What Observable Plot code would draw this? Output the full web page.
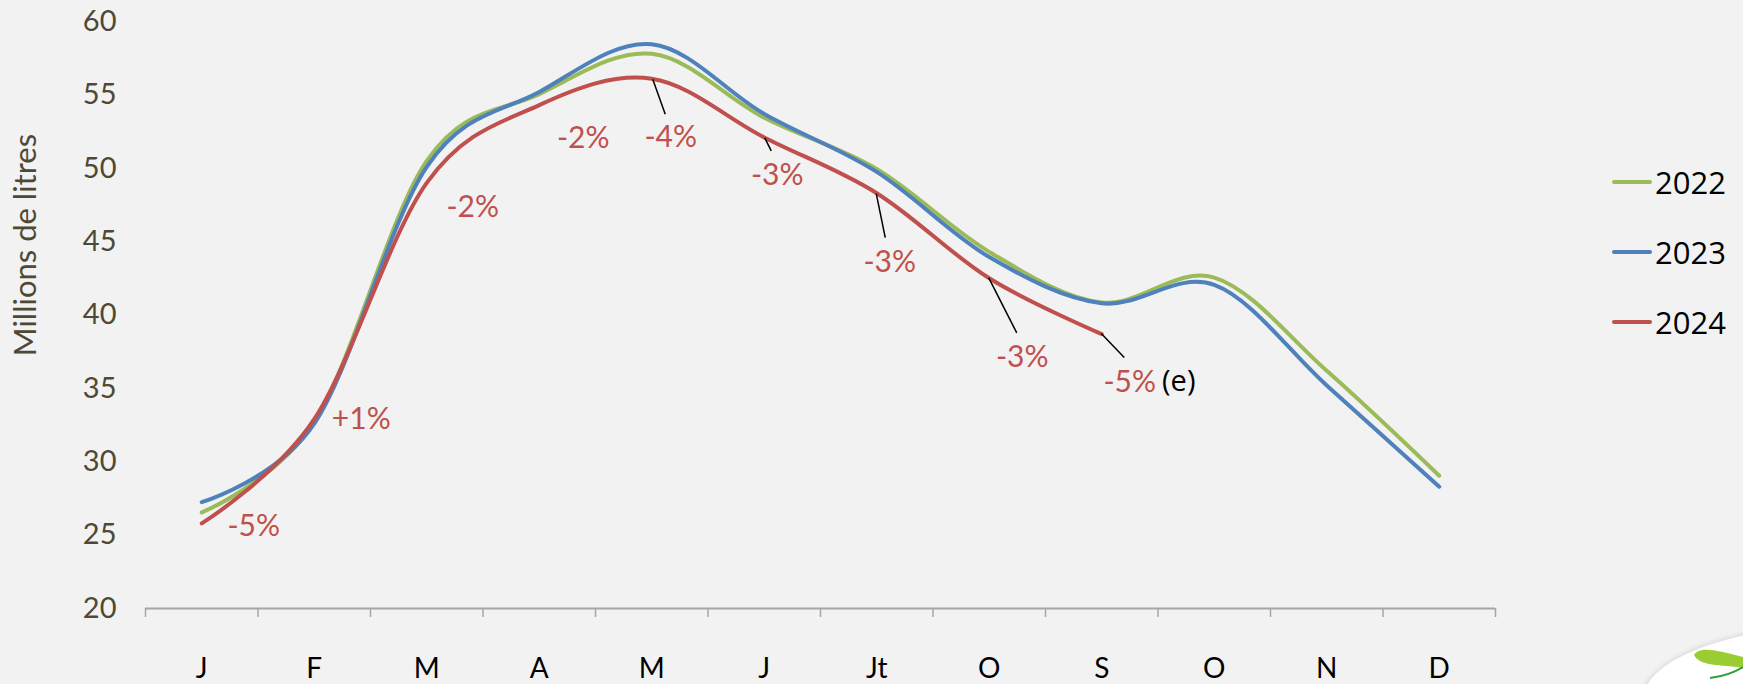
<!DOCTYPE html>
<html>
<head>
<meta charset="utf-8">
<script src="https://cdn.jsdelivr.net/npm/d3@7"></script>
<script src="https://cdn.jsdelivr.net/npm/@observablehq/plot@0.6"></script>
<style>
  html, body { margin: 0; padding: 0; background: #F2F2F2; }
  #wrap { position: relative; width: 1743px; height: 684px; overflow: hidden; background: #F2F2F2; }
  #legend { position: absolute; left: 1612px; top: 0; font-family: "Open Sans", sans-serif; font-size: 31px; color: #000; }
  .lg { position: absolute; left: 0; display: flex; align-items: center; white-space: nowrap; }
  .lg .sw { width: 40px; height: 4px; border-radius: 2px; margin-right: 3px; }
  #logo { position: absolute; left: 0; top: 0; pointer-events: none; }
</style>
</head>
<body>
<div id="wrap"></div>
<script>
// ---- data ----
const months = ["J", "F", "M", "A", "M", "J", "Jt", "O", "S", "O", "N", "D"];
const years = ["2022", "2023", "2024"];
const colors = ["#9BBB59", "#4F81BD", "#C0504D"];
const v2022 = [26.55, 32.7, 50.5, 55.05, 57.8, 53.45, 49.95, 44.3, 40.85, 42.55, 36.2, 29.05];
const v2023 = [27.25, 32.6, 50.1, 55.2, 58.45, 53.7, 49.75, 43.95, 40.8, 42.05, 35.2, 28.3];
const v2024 = [25.8, 32.9, 49.0, 54.3, 56.1, 52.1, 48.3, 42.5, 38.7];
const changes2024 = ["-5%", "+1%", "-2%", "-2%", "-4%", "-3%", "-3%", "-3%", "-5%"];
const yTicks = [20, 25, 30, 35, 40, 45, 50, 55, 60];
const yTitle = "Millions de litres";
const estimateNote = "(e)";

// ---- table built from the arrays ----
const seriesVals = [v2022, v2023, v2024];
const rows = years.flatMap((y, k) => seriesVals[k].map((v, i) => ({year: y, i, value: v})));
const annot = changes2024.map((t, i) => ({i, value: v2024[i], label: t}));

// ---- label layout (pixel offsets from the 2024 point) ----
const labelOff = [[52, 3], [47, 0], [46, 24], [44, 33], [19, 59], [13, 38], [13, 69], [33, 79], [28, 48]];
const leaderOff = [null, null, null, null, [[1.5, 1], [14, 36]], [[1, 1], [7.5, 14]], [[0, 1], [9, 45]], [[0, 0], [28, 55]], [[0, 0], [23, 24]]];

const red = "#C0504D";
const axisGray = "#A6A6A6";
const tickColor = "#4D4935";

const labelMarks = annot.map((a, k) => Plot.text([a], {
  x: "i", y: "value", text: "label",
  dx: labelOff[k][0], dy: labelOff[k][1],
  fill: red, fontSize: 30, fontFamily: "Lato", textAnchor: "middle"
}));

const leaders = (index, scales) => {
  const g = d3.create("svg:g").attr("stroke", "#000").attr("stroke-width", 1.5);
  annot.forEach((a, k) => {
    const off = leaderOff[k];
    if (!off) return;
    const px = scales.x(a.i), py = scales.y(a.value);
    g.append("line")
      .attr("x1", px + off[0][0]).attr("y1", py + off[0][1])
      .attr("x2", px + off[1][0]).attr("y2", py + off[1][1]);
  });
  return g.node();
};

const plot = Plot.plot({
  width: 1743,
  height: 684,
  marginLeft: 145,
  marginRight: 248,
  marginTop: 21,
  marginBottom: 76,
  style: {background: "transparent", fontFamily: "Lato", overflow: "visible"},
  x: {domain: [-0.5, 11.5]},
  y: {domain: [20, 60]},
  color: {domain: years, range: colors},
  marks: [
    Plot.axisY({ticks: yTicks, tickSize: 0, tickPadding: 29, fontSize: 29, color: tickColor, label: null}),
    Plot.text([yTitle], {frameAnchor: "left", textAnchor: "middle", dx: -119, dy: -70, rotate: -90, fontSize: 31, fill: tickColor, fontFamily: "Lato"}),
    Plot.axisX(d3.range(-0.5, 12, 1), {tickSize: 9, tickFormat: () => "", stroke: axisGray, strokeWidth: 1.5, label: null}),
    Plot.axisX(d3.range(12), {tickSize: 0, tickPadding: 50, tickFormat: i => months[i], fontSize: 28, color: "#000", label: null}),
    Plot.ruleY([20], {stroke: axisGray, strokeWidth: 2}),
    Plot.line(rows, {x: "i", y: "value", z: "year", stroke: "year", strokeWidth: 4, curve: "cardinal", strokeLinecap: "round"}),
    leaders,
    ...labelMarks,
    Plot.text([annot[annot.length - 1]], {x: "i", y: "value", text: () => estimateNote, dx: 77, dy: 48, fill: "#000", fontSize: 29, fontFamily: "Open Sans", textAnchor: "middle"})
  ]
});

const wrap = document.getElementById("wrap");
wrap.appendChild(plot);

// legend (right side, inside the picture)
const legend = document.createElement("div");
legend.id = "legend";
const legendTops = [182, 252, 322];
years.forEach((y, k) => {
  const row = document.createElement("div");
  row.className = "lg";
  row.style.top = (legendTops[k] - 22) + "px";
  row.style.height = "44px";
  const sw = document.createElement("div");
  sw.className = "sw";
  sw.style.background = colors[k];
  const t = document.createElement("span");
  t.textContent = y;
  row.appendChild(sw);
  row.appendChild(t);
  legend.appendChild(row);
});
wrap.appendChild(legend);

// logo fragment in the bottom-right corner
const ns = "http://www.w3.org/2000/svg";
const logo = document.createElementNS(ns, "svg");
logo.setAttribute("id", "logo");
logo.setAttribute("width", "1743");
logo.setAttribute("height", "684");
logo.innerHTML = `
  <defs><filter id="sh" x="-20%" y="-20%" width="140%" height="140%"><feGaussianBlur stdDeviation="2"/></filter></defs>
  <ellipse cx="1832" cy="702" rx="192" ry="77" fill="#dcdcdc" filter="url(#sh)"/>
  <ellipse cx="1832" cy="702" rx="190" ry="75" fill="#ffffff"/>
  <path d="M1694 655 C1700 646 1715 650 1743 657 L1743 668 C1720 664 1700 667 1694 655 Z" fill="#9ACD32"/>
  <path d="M1710 678 C1725 676 1735 672 1743 667" stroke="#2E9E3E" stroke-width="2" fill="none"/>
`;
wrap.appendChild(logo);
</script>
</body>
</html>
